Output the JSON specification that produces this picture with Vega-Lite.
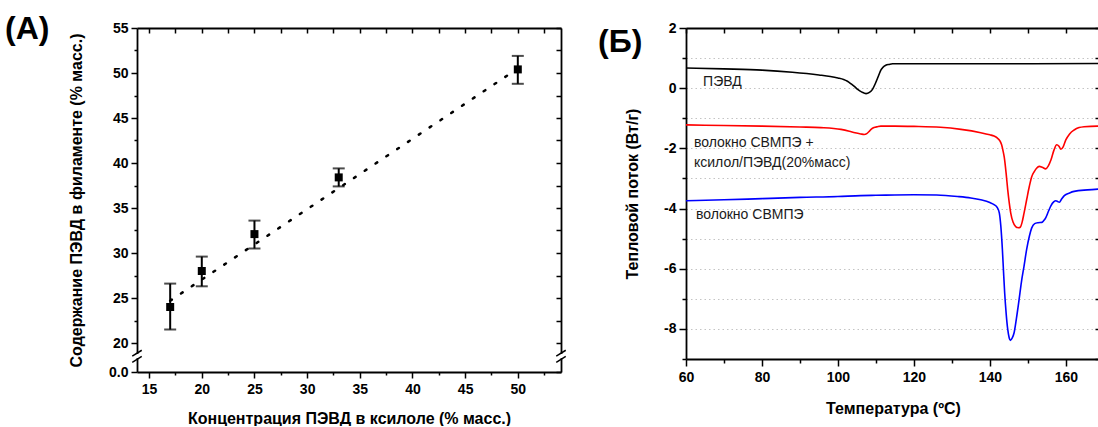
{
  "$schema": "https://vega.github.io/schema/vega-lite/v6.json",
  "background": "white",
  "padding": {"left": 5, "top": 13, "right": 0, "bottom": 0},
  "autosize": {"type": "pad"},
  "bounds": "flush",
  "spacing": 125,
  "config": {
    "font": "Liberation Sans",
    "view": {"stroke": null},
    "axis": {
      "labelFont": "Liberation Sans", "labelFontWeight": "bold", "labelFontSize": 14, "labelColor": "black",
      "titleFont": "Liberation Sans", "titleFontWeight": "bold", "titleFontSize": 16, "titleColor": "black",
      "domainColor": "black", "domainWidth": 1.8, "tickColor": "black", "tickWidth": 1.5,
      "grid": false, "labelFlush": false, "labelOverlap": false, "labelBound": false
    },
    "title": {"font": "Liberation Sans", "fontWeight": "bold", "fontSize": 32, "color": "black"}
  },
  "hconcat": [
    {
      "width": 424,
      "height": 344,
      "title": {"text": "(A)", "anchor": "start", "frame": "group", "orient": "top", "offset": -50, "baseline": "alphabetic", "dx": -132},
      "resolve": {"axis": {"x": "independent", "y": "independent"}},
      "layer": [
        {
          "data": {"values": [{"c": 17, "p": 24.7}, {"c": 50, "p": 50.5}]},
          "mark": {"type": "line", "strokeDash": [2, 11], "strokeWidth": 2.5, "strokeCap": "round", "color": "black"},
          "encoding": {
            "x": {"field": "c", "type": "quantitative", "scale": {"domain": [13.85, 54.1], "nice": false, "zero": false},
              "axis": {"orient": "bottom", "values": [15, 17.5, 20, 22.5, 25, 27.5, 30, 32.5, 35, 37.5, 40, 42.5, 45, 47.5, 50, 52.5],
                "labelExpr": "datum.value % 5 === 0 ? '' + datum.value : ''",
                "tickSize": {"condition": {"test": "datum.value % 5 === 0", "value": 6}, "value": 3},
                "labelPadding": 4, "title": "Концентрация ПЭВД в ксилоле (% масс.)", "titlePadding": 14}},
            "y": {"field": "p", "type": "quantitative", "scale": {"domain": [0, 20, 55], "range": [344, 315, 0], "nice": false, "zero": false},
              "axis": {"orient": "left", "values": [0, 20, 22.5, 25, 27.5, 30, 32.5, 35, 37.5, 40, 42.5, 45, 47.5, 50, 52.5, 55],
                "labelExpr": "datum.value === 0 ? '0.0' : (datum.value % 5 === 0 ? '' + datum.value : '')",
                "tickSize": {"condition": {"test": "datum.value % 5 === 0", "value": 6}, "value": 3},
                "labelPadding": 3, "title": "Содержание ПЭВД в филаменте (% масс.)", "titlePadding": 24}}
          }
        },
        {
          "data": {"values": [{"x": 13.85, "a": 9.6, "b": 12.4}, {"x": 54.1, "a": 9.6, "b": 12.4}]},
          "mark": {"type": "rule", "color": "white", "strokeWidth": 5},
          "encoding": {
            "x": {"field": "x", "type": "quantitative", "scale": {"domain": [13.85, 54.1], "nice": false, "zero": false}, "axis": null},
            "y": {"field": "a", "type": "quantitative", "scale": {"domain": [0, 20, 55], "range": [344, 315, 0], "nice": false, "zero": false}, "axis": null},
            "y2": {"field": "b"}
          }
        },
        {
          "data": {"values": [
            {"x1": 13.4, "x2": 14.3, "y1": 10.9, "y2": 15.0},
            {"x1": 13.4, "x2": 14.3, "y1": 6.7, "y2": 10.8},
            {"x1": 53.65, "x2": 54.55, "y1": 10.9, "y2": 15.0},
            {"x1": 53.65, "x2": 54.55, "y1": 6.7, "y2": 10.8}
          ]},
          "mark": {"type": "rule", "color": "black", "strokeWidth": 1.5},
          "encoding": {
            "x": {"field": "x1", "type": "quantitative", "scale": {"domain": [13.85, 54.1], "nice": false, "zero": false}, "axis": null},
            "x2": {"field": "x2"},
            "y": {"field": "y1", "type": "quantitative", "scale": {"domain": [0, 20, 55], "range": [344, 315, 0], "nice": false, "zero": false}, "axis": null},
            "y2": {"field": "y2"}
          }
        },
        {
          "data": {"values": [
            {"c": 17, "p": 24.0, "lo": 21.5, "hi": 26.6},
            {"c": 20, "p": 28.0, "lo": 26.3, "hi": 29.6},
            {"c": 25, "p": 32.1, "lo": 30.5, "hi": 33.6},
            {"c": 33, "p": 38.4, "lo": 37.4, "hi": 39.4},
            {"c": 50, "p": 50.4, "lo": 48.8, "hi": 51.9}
          ]},
          "mark": {"type": "rule", "color": "black", "strokeWidth": 2},
          "encoding": {
            "x": {"field": "c", "type": "quantitative", "scale": {"domain": [13.85, 54.1], "nice": false, "zero": false}, "axis": null},
            "y": {"field": "lo", "type": "quantitative", "scale": {"domain": [0, 20, 55], "range": [344, 315, 0], "nice": false, "zero": false}, "axis": null},
            "y2": {"field": "hi"}
          }
        },
        {
          "data": {"values": [
            {"c": 17, "p": 24.0, "lo": 21.5, "hi": 26.6},
            {"c": 20, "p": 28.0, "lo": 26.3, "hi": 29.6},
            {"c": 25, "p": 32.1, "lo": 30.5, "hi": 33.6},
            {"c": 33, "p": 38.4, "lo": 37.4, "hi": 39.4},
            {"c": 50, "p": 50.4, "lo": 48.8, "hi": 51.9}
          ]},
          "transform": [{"fold": ["lo", "hi"], "as": ["k", "val"]}],
          "mark": {"type": "tick", "orient": "horizontal", "color": "black", "size": 12, "thickness": 2},
          "encoding": {
            "x": {"field": "c", "type": "quantitative", "scale": {"domain": [13.85, 54.1], "nice": false, "zero": false}, "axis": null},
            "y": {"field": "val", "type": "quantitative", "scale": {"domain": [0, 20, 55], "range": [344, 315, 0], "nice": false, "zero": false}, "axis": null}
          }
        },
        {
          "data": {"values": [
            {"c": 17, "p": 24.0},
            {"c": 20, "p": 28.0},
            {"c": 25, "p": 32.1},
            {"c": 33, "p": 38.4},
            {"c": 50, "p": 50.4}
          ]},
          "mark": {"type": "square", "filled": true, "color": "black", "size": 64, "opacity": 1},
          "encoding": {
            "x": {"field": "c", "type": "quantitative", "scale": {"domain": [13.85, 54.1], "nice": false, "zero": false},
              "axis": {"orient": "top", "values": [15, 17.5, 20, 22.5, 25, 27.5, 30, 32.5, 35, 37.5, 40, 42.5, 45, 47.5, 50, 52.5],
                "labels": false, "title": null, "tickSize": -5}},
            "y": {"field": "p", "type": "quantitative", "scale": {"domain": [0, 20, 55], "range": [344, 315, 0], "nice": false, "zero": false},
              "axis": {"orient": "right", "values": [0, 20, 22.5, 25, 27.5, 30, 32.5, 35, 37.5, 40, 42.5, 45, 47.5, 50, 52.5, 55],
                "labels": false, "title": null, "tickSize": -5}}
          }
        }
      ]
    },
    {
      "width": 414,
      "height": 331,
      "title": {"text": "(Б)", "anchor": "start", "frame": "group", "orient": "top", "offset": -63, "baseline": "alphabetic", "dx": -88},
      "resolve": {"axis": {"x": "independent", "y": "independent"}},
      "layer": [
        {
          "data": {"values": [
            {"s": "ПЭВД", "t": 60, "v": 0.67}, {"s": "ПЭВД", "t": 70, "v": 0.64}, {"s": "ПЭВД", "t": 80, "v": 0.6}, {"s": "ПЭВД", "t": 88, "v": 0.53},
            {"s": "ПЭВД", "t": 95, "v": 0.44}, {"s": "ПЭВД", "t": 98, "v": 0.39}, {"s": "ПЭВД", "t": 100, "v": 0.34}, {"s": "ПЭВД", "t": 101.5, "v": 0.29},
            {"s": "ПЭВД", "t": 102.5, "v": 0.23}, {"s": "ПЭВД", "t": 103.5, "v": 0.14}, {"s": "ПЭВД", "t": 104.4, "v": 0.05}, {"s": "ПЭВД", "t": 105.2, "v": -0.04},
            {"s": "ПЭВД", "t": 106.3, "v": -0.13}, {"s": "ПЭВД", "t": 107.4, "v": -0.18}, {"s": "ПЭВД", "t": 108.3, "v": -0.14}, {"s": "ПЭВД", "t": 109.1, "v": -0.04},
            {"s": "ПЭВД", "t": 109.8, "v": 0.14}, {"s": "ПЭВД", "t": 110.4, "v": 0.32}, {"s": "ПЭВД", "t": 110.9, "v": 0.48}, {"s": "ПЭВД", "t": 111.3, "v": 0.6},
            {"s": "ПЭВД", "t": 111.9, "v": 0.7}, {"s": "ПЭВД", "t": 112.6, "v": 0.76}, {"s": "ПЭВД", "t": 113.5, "v": 0.79}, {"s": "ПЭВД", "t": 114.4, "v": 0.81},
            {"s": "ПЭВД", "t": 120, "v": 0.81}, {"s": "ПЭВД", "t": 140, "v": 0.81}, {"s": "ПЭВД", "t": 169, "v": 0.82},

            {"s": "смесь", "t": 60, "v": -1.22}, {"s": "смесь", "t": 70, "v": -1.24}, {"s": "смесь", "t": 80, "v": -1.26}, {"s": "смесь", "t": 90, "v": -1.29},
            {"s": "смесь", "t": 95.5, "v": -1.31}, {"s": "смесь", "t": 100.8, "v": -1.37}, {"s": "смесь", "t": 103, "v": -1.43}, {"s": "смесь", "t": 104.5, "v": -1.48},
            {"s": "смесь", "t": 106, "v": -1.52}, {"s": "смесь", "t": 106.9, "v": -1.54}, {"s": "смесь", "t": 107.6, "v": -1.51}, {"s": "смесь", "t": 108.2, "v": -1.44},
            {"s": "смесь", "t": 108.8, "v": -1.36}, {"s": "смесь", "t": 109.5, "v": -1.31}, {"s": "смесь", "t": 110.4, "v": -1.28}, {"s": "смесь", "t": 111.3, "v": -1.26},
            {"s": "смесь", "t": 115, "v": -1.26}, {"s": "смесь", "t": 120, "v": -1.27}, {"s": "смесь", "t": 127, "v": -1.3}, {"s": "смесь", "t": 132.4, "v": -1.37},
            {"s": "смесь", "t": 137.6, "v": -1.48}, {"s": "смесь", "t": 140, "v": -1.55}, {"s": "смесь", "t": 141.1, "v": -1.59}, {"s": "смесь", "t": 142, "v": -1.66},
            {"s": "смесь", "t": 142.6, "v": -1.74}, {"s": "смесь", "t": 143.1, "v": -1.88}, {"s": "смесь", "t": 143.5, "v": -2.1}, {"s": "смесь", "t": 143.8, "v": -2.3},
            {"s": "смесь", "t": 144.3, "v": -2.85}, {"s": "смесь", "t": 144.7, "v": -3.37}, {"s": "смесь", "t": 145.1, "v": -3.8}, {"s": "смесь", "t": 145.5, "v": -4.15},
            {"s": "смесь", "t": 146.1, "v": -4.45}, {"s": "смесь", "t": 146.8, "v": -4.6}, {"s": "смесь", "t": 147.5, "v": -4.64}, {"s": "смесь", "t": 148, "v": -4.62},
            {"s": "смесь", "t": 148.5, "v": -4.45}, {"s": "смесь", "t": 149, "v": -4.15}, {"s": "смесь", "t": 149.7, "v": -3.7}, {"s": "смесь", "t": 150.4, "v": -3.26},
            {"s": "смесь", "t": 151, "v": -2.95}, {"s": "смесь", "t": 151.7, "v": -2.77}, {"s": "смесь", "t": 152.3, "v": -2.66}, {"s": "смесь", "t": 153, "v": -2.6},
            {"s": "смесь", "t": 153.8, "v": -2.63}, {"s": "смесь", "t": 154.7, "v": -2.68}, {"s": "смесь", "t": 155.4, "v": -2.58}, {"s": "смесь", "t": 156.1, "v": -2.38},
            {"s": "смесь", "t": 156.9, "v": -2.05}, {"s": "смесь", "t": 157.6, "v": -1.88}, {"s": "смесь", "t": 158.2, "v": -1.93}, {"s": "смесь", "t": 158.7, "v": -2.03},
            {"s": "смесь", "t": 159.3, "v": -1.95}, {"s": "смесь", "t": 160, "v": -1.72}, {"s": "смесь", "t": 161, "v": -1.52}, {"s": "смесь", "t": 162.2, "v": -1.39},
            {"s": "смесь", "t": 163.5, "v": -1.31}, {"s": "смесь", "t": 164.8, "v": -1.28}, {"s": "смесь", "t": 168.3, "v": -1.26}, {"s": "смесь", "t": 169, "v": -1.26},

            {"s": "волокно", "t": 60, "v": -3.74}, {"s": "волокно", "t": 70, "v": -3.71}, {"s": "волокно", "t": 80, "v": -3.67}, {"s": "волокно", "t": 90, "v": -3.63},
            {"s": "волокно", "t": 100, "v": -3.6}, {"s": "волокно", "t": 106, "v": -3.57}, {"s": "волокно", "t": 110, "v": -3.56}, {"s": "волокно", "t": 120, "v": -3.54},
            {"s": "волокно", "t": 126, "v": -3.55}, {"s": "волокно", "t": 131.5, "v": -3.6}, {"s": "волокно", "t": 135, "v": -3.65}, {"s": "волокно", "t": 137.6, "v": -3.71},
            {"s": "волокно", "t": 140, "v": -3.8}, {"s": "волокно", "t": 141.1, "v": -3.87}, {"s": "волокно", "t": 142, "v": -3.98}, {"s": "волокно", "t": 142.5, "v": -4.15},
            {"s": "волокно", "t": 142.9, "v": -4.6}, {"s": "волокно", "t": 143.3, "v": -5.36}, {"s": "волокно", "t": 143.6, "v": -6.1}, {"s": "волокно", "t": 143.9, "v": -6.8},
            {"s": "волокно", "t": 144.3, "v": -7.5}, {"s": "волокно", "t": 144.7, "v": -8.01}, {"s": "волокно", "t": 145.1, "v": -8.3}, {"s": "волокно", "t": 145.4, "v": -8.38},
            {"s": "волокно", "t": 145.9, "v": -8.3}, {"s": "волокно", "t": 146.4, "v": -8.12}, {"s": "волокно", "t": 147, "v": -7.65}, {"s": "волокно", "t": 147.7, "v": -7.02},
            {"s": "волокно", "t": 148.3, "v": -6.45}, {"s": "волокно", "t": 149, "v": -5.91}, {"s": "волокно", "t": 149.7, "v": -5.35}, {"s": "волокно", "t": 150.4, "v": -4.92},
            {"s": "волокно", "t": 151, "v": -4.65}, {"s": "волокно", "t": 151.8, "v": -4.5}, {"s": "волокно", "t": 152.7, "v": -4.47}, {"s": "волокно", "t": 153.7, "v": -4.46},
            {"s": "волокно", "t": 154.2, "v": -4.4}, {"s": "волокно", "t": 154.7, "v": -4.31}, {"s": "волокно", "t": 155.4, "v": -4.1}, {"s": "волокно", "t": 156.1, "v": -3.9},
            {"s": "волокно", "t": 156.8, "v": -3.78}, {"s": "волокно", "t": 157.4, "v": -3.74}, {"s": "волокно", "t": 157.9, "v": -3.77}, {"s": "волокно", "t": 158.3, "v": -3.79},
            {"s": "волокно", "t": 158.9, "v": -3.68}, {"s": "волокно", "t": 159.6, "v": -3.57}, {"s": "волокно", "t": 161, "v": -3.48}, {"s": "волокно", "t": 162.2, "v": -3.43},
            {"s": "волокно", "t": 165.7, "v": -3.38}, {"s": "волокно", "t": 169, "v": -3.35}
          ]},
          "mark": {"type": "line", "strokeWidth": 1.6, "interpolate": "monotone"},
          "encoding": {
            "x": {"field": "t", "type": "quantitative", "scale": {"domain": [60, 169], "nice": false, "zero": false},
              "axis": {"orient": "bottom", "values": [60, 70, 80, 90, 100, 110, 120, 130, 140, 150, 160],
                "labelExpr": "datum.value % 20 === 0 ? '' + datum.value : ''",
                "tickSize": {"condition": {"test": "datum.value % 20 === 0", "value": 7}, "value": 4},
                "labelPadding": 4, "title": "Температура (ºC)", "titlePadding": 16}},
            "y": {"field": "v", "type": "quantitative", "scale": {"domain": [-9, 2], "nice": false, "zero": false},
              "axis": {"orient": "left", "values": [-9, -8, -7, -6, -5, -4, -3, -2, -1, 0, 1, 2],
                "labelExpr": "datum.value % 2 === 0 ? '' + datum.value : ''",
                "tickSize": {"condition": {"test": "datum.value % 2 === 0", "value": 7}, "value": 4},
                "grid": true, "gridColor": "#c4c4c4", "gridDash": [1.5, 3], "gridWidth": 1,
                "labelPadding": 3, "title": "Тепловой поток (Вт/г)", "titlePadding": 23}},
            "color": {"field": "s", "type": "nominal", "legend": null,
              "scale": {"domain": ["ПЭВД", "смесь", "волокно"], "range": ["#000000", "#ff0000", "#0000ff"]}}
          }
        },
        {
          "data": {"values": [
            {"label": "ПЭВД", "t": 64.5, "v": 0.19},
            {"label": "волокно СВМПЭ  +", "t": 62.1, "v": -1.81},
            {"label": "ксилол/ПЭВД(20%масс)", "t": 62.1, "v": -2.49},
            {"label": "волокно СВМПЭ", "t": 62.6, "v": -4.22}
          ]},
          "mark": {"type": "text", "align": "left", "baseline": "middle", "fontSize": 14, "font": "Liberation Sans", "color": "#1a1a1a"},
          "encoding": {
            "x": {"field": "t", "type": "quantitative", "scale": {"domain": [60, 169], "nice": false, "zero": false},
              "axis": {"orient": "top", "values": [60, 70, 80, 90, 100, 110, 120, 130, 140, 150, 160],
                "labels": false, "title": null, "tickSize": -5}},
            "y": {"field": "v", "type": "quantitative", "scale": {"domain": [-9, 2], "nice": false, "zero": false},
              "axis": {"orient": "right", "values": [-9, -8, -7, -6, -5, -4, -3, -2, -1, 0, 1, 2],
                "labels": false, "title": null, "tickSize": -5}},
            "text": {"field": "label", "type": "nominal"}
          }
        }
      ]
    }
  ]
}
